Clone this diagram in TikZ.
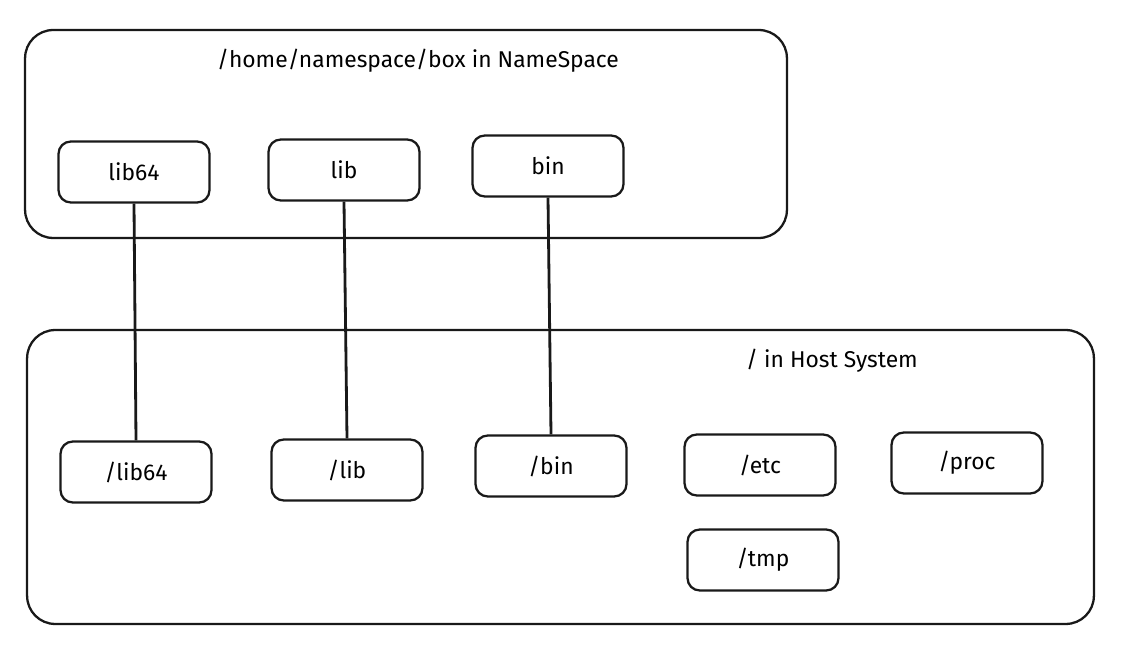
\documentclass[tikz,border=0pt]{standalone}
\usepackage{fontspec}
\setmainfont{Fira Sans}
\begin{document}
\begin{tikzpicture}[x=0.02cm,y=-0.02cm,
  dirbox/.style={draw=black!90,line width=1.3pt,rounded corners=7pt,minimum width=3.02cm,minimum height=1.22cm,inner sep=0pt,font=\fontsize{13}{15}\selectfont},
  bigbox/.style={draw=black!90,line width=1.3pt,rounded corners=16pt,inner sep=0pt},
  title/.style={font=\fontsize{13}{15}\selectfont,inner sep=0pt},
  link/.style={draw=black!90,line width=1.6pt}]
\useasboundingbox (0,0) rectangle (1126,655);
\node[bigbox,minimum width=15.24cm,minimum height=4.16cm] (ns) at (406,134) {};
\node[bigbox,minimum width=21.34cm,minimum height=5.88cm] (host) at (560.5,477) {};
\node[title] (nstitle) at (418,61) {/home/namespace/box in NameSpace};
\node[title] (hosttitle) at (832,361) {/ in Host System};
\node[dirbox] (lib64) at (134,172) {lib64};
\node[dirbox] (lib) at (344,170) {lib};
\node[dirbox] (bin) at (548,166) {bin};
\node[dirbox] (hlib64) at (136,472) {/lib64};
\node[dirbox] (hlib) at (347,470) {/lib};
\node[dirbox] (hbin) at (551,466) {/bin};
\node[dirbox] (hetc) at (760,465) {/etc};
\node[dirbox] (hproc) at (967,463) {/proc};
\node[dirbox] (htmp) at (763,560) {/tmp};
\draw[link] (lib64.south) -- (hlib64.north);
\draw[link] (lib.south) -- (hlib.north);
\draw[link] (bin.south) -- (hbin.north);
\end{tikzpicture}
\end{document}
